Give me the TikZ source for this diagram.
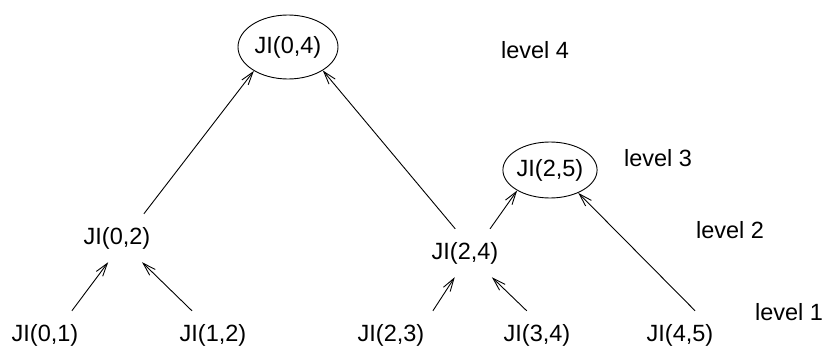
\documentclass[tikz,border=0pt]{standalone}
\usepackage{fontspec}
\setmainfont{Liberation Sans}
\usetikzlibrary{shapes.geometric,arrows.meta}

\begin{document}
\begin{tikzpicture}[x=1pt, y=-1pt,
        txt/.style={font=\fontsize{23.5}{28}\selectfont, inner sep=0pt},
        jbox/.style={txt, minimum width=100pt, minimum height=48pt},
        jellipse/.style={txt, draw, ellipse, line width=0.9pt},
        arrow/.style={-{Straight Barb[length=13pt,width=8pt]}, line width=0.9pt}
    ]
        \useasboundingbox (0,0) rectangle (825,356);

        \node[jellipse, minimum width=100pt, minimum height=64pt] (j04) at (288,47) {JI(0,4)};
        \node[jellipse, minimum width=94pt, minimum height=56pt] (j25) at (550,170) {JI(2,5)};
        \node[jbox] (j02) at (117,238) {JI(0,2)};
        \node[jbox] (j24) at (465,253) {JI(2,4)};
        \node[jbox] (j01) at (45,335) {JI(0,1)};
        \node[jbox] (j12) at (213,335) {JI(1,2)};
        \node[jbox] (j23) at (391,335) {JI(2,3)};
        \node[jbox] (j34) at (537,335) {JI(3,4)};
        \node[jbox] (j45) at (680,335) {JI(4,5)};

        \node[txt] (lvl4) at (535,50) {level 4};
        \node[txt] (lvl3) at (658,158) {level 3};
        \node[txt] (lvl2) at (730,230) {level 2};
        \node[txt] (lvl1) at (789,312) {level 1};

        \draw[arrow] (j01.42) -- (j02.-110);
        \draw[arrow] (j12.131) -- (j02.-44);
        \draw[arrow] (j23.30) -- (j24.-113);
        \draw[arrow] (j34.113) -- (j24.-42);
        \draw[arrow] (j02.42) -- (j04.-145);
        \draw[arrow] (j24.112) -- (j04.-34);
        \draw[arrow] (j24.44) -- (j25.-148);
        \draw[arrow] (j45.58) -- (j25.-39);
    \end{tikzpicture}
\end{document}
